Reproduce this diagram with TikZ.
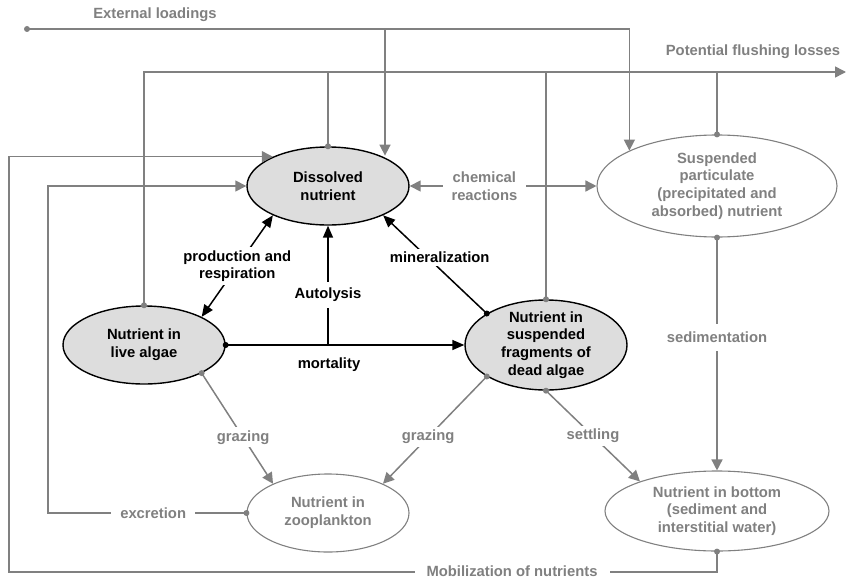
\documentclass[tikz,border=0pt]{standalone}
\usepackage{fontspec}
\setmainfont{Liberation Sans}
\usetikzlibrary{shapes.geometric,arrows.meta,calc}
\definecolor{flowgray}{RGB}{128,128,128}
\definecolor{poolfill}{RGB}{221,221,221}

\begin{document}
\begin{tikzpicture}[x=1pt, y=-1pt,
                    font=\fontsize{14.8}{17.7}\selectfont\bfseries,
                    pool/.style={ellipse, draw, line width=1.4pt, fill=poolfill, align=center, inner sep=-3pt, minimum width=162, minimum height=78},
                    extpool/.style={ellipse, draw=flowgray, line width=1.1pt, text=flowgray, align=center, inner sep=-3pt},
                    gline/.style={draw=flowgray, line width=1.5pt},
                    garrow/.style={gline, -{Triangle[length=11pt,width=11pt]}},
                    gboth/.style={gline, {Triangle[length=11pt,width=11pt]}-{Triangle[length=11pt,width=11pt]}},
                    barrow/.style={line width=1.5pt, -{Triangle[length=12pt,width=10pt]}},
                    bboth/.style={line width=1.5pt, {Triangle[length=12pt,width=10pt]}-{Triangle[length=12pt,width=10pt]}},
                    glabel/.style={fill=white, text=flowgray, align=center, inner sep=3pt},
                    blabel/.style={fill=white, align=center, inner sep=3pt}]
    \useasboundingbox (0,0) rectangle (846,578);

    % pools
    \node[pool] (diss) at (328,186) {Dissolved\\ nutrient};
    \node[pool] (live) at (144,345) {Nutrient in\\ live algae};
    \node[pool, minimum height=90] (dead) at (546,345) {Nutrient in\\ suspended\\ fragments of\\ dead algae};
    \node[extpool, minimum width=240, minimum height=102] (susp) at (717,186) {Suspended\\ particulate\\ (precipitated and\\ absorbed) nutrient};
    \node[extpool, minimum width=162, minimum height=78] (zoo) at (328,513) {Nutrient in\\ zooplankton};
    \node[extpool, minimum width=224, minimum height=80] (bot) at (717,511) {Nutrient in bottom\\ (sediment and\\ interstitial water)};

    \coordinate (extin) at (27,29);
    \coordinate (extbr) at (385,29);
    \coordinate (flush) at (846,72);
    \coordinate (mobcorner) at (9,572);
    \coordinate (excrcorner) at (48,513);

    % external loadings
    \draw[garrow] (extin) -| (susp.158);
    \draw[garrow] (extbr) -- (extbr |- diss.30);
    \node[text=flowgray] (extlab) at (155,15) {External loadings};

    % flushing losses
    \draw[garrow] (live.north) |- (flush);
    \draw[gline] (diss.north) -- (diss.north |- flush);
    \draw[gline] (dead.north) -- (dead.north |- flush);
    \draw[gline] (susp.north) -- (susp.north |- flush);
    \node[text=flowgray] (flushlab) at (753,52) {Potential flushing losses};

    % exchange with dissolved pool
    \draw[gboth] (diss.east) -- (susp.west) node[glabel, pos=0.4, inner xsep=9pt] (chem) {chemical\\ reactions};
    \draw[bboth] (live.26) -- (diss.208) node[blabel, midway] (prod) {production and\\ respiration};
    \draw[barrow] (live.east) -- (dead.west);
    \node (mort) at (329,365) {mortality};
    \draw[barrow] (diss.south |- live.east) -- (diss.south) node[blabel, pos=0.42, inner ysep=6pt] (auto) {Autolysis};
    \draw[barrow] (dead.152) -- (diss.-28) node[blabel, pos=0.57, xshift=12pt] (mine) {mineralization};

    % grazing, settling, sedimentation
    \draw[garrow] (live.-26) -- (zoo.152) node[glabel, pos=0.58] (grazea) {grazing};
    \draw[garrow] (dead.208) -- (zoo.28) node[glabel, pos=0.565] (grazeb) {grazing};
    \draw[garrow] (dead.south) -- (bot.159) node[glabel, midway] (settle) {settling};
    \draw[garrow] (susp.south) -- (bot.north) node[glabel, pos=0.43, inner ysep=8pt] (sedim) {sedimentation};

    % return loops
    \draw[garrow] (zoo.west) -- node[glabel, pos=0.47, inner xsep=9pt] (excr) {excretion} (excrcorner) |- (diss.west);
    \draw[garrow] (bot.south) |- (mobcorner) |- (diss.152);
    \node[glabel, inner xsep=12pt, inner ysep=0pt] (mob) at (512,571) {Mobilization of nutrients};

    % dots
    \foreach \p in {extin, live.north, diss.north, dead.north, susp.north, susp.south, bot.south, zoo.west, live.-26, dead.208, dead.south}
        \fill[flowgray] (\p) circle (3pt);
    \foreach \p in {live.east, dead.152}
        \fill (\p) circle (3pt);
\end{tikzpicture}
\end{document}
